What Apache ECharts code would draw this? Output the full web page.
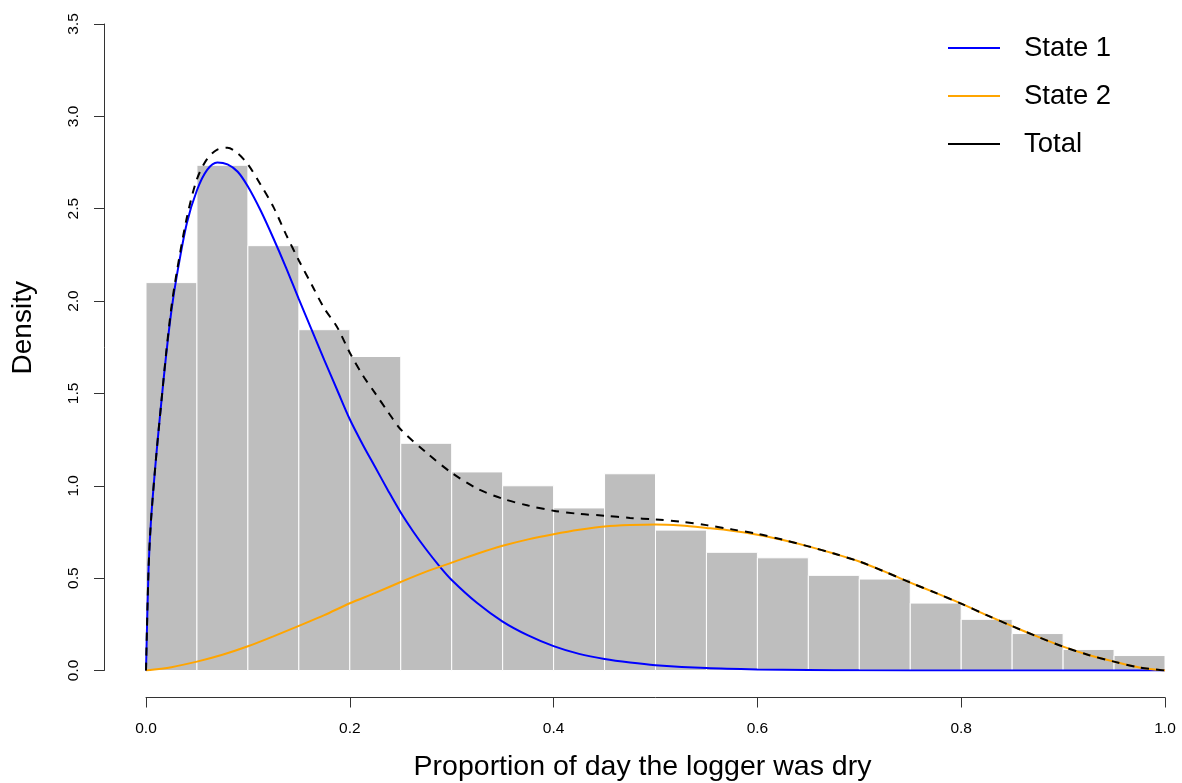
<!DOCTYPE html>
<html><head><meta charset="utf-8">
<script src="https://cdn.jsdelivr.net/npm/echarts@6/dist/echarts.min.js"></script>
<style>html,body{margin:0;padding:0;background:#fff}#c{width:1182px;height:783px}</style>
</head><body><div id="c"></div>
<script>
// Histogram bins (width 0.05) and densities
const binEdges = [0,0.05,0.1,0.15,0.2,0.25,0.3,0.35,0.4,0.45,0.5,0.55,0.6,0.65,0.7,0.75,0.8,0.85,0.9,0.95,1.0];
const histHeights = [2.10,2.735,2.30,1.845,1.70,1.23,1.075,1.00,0.88,1.065,0.76,0.64,0.61,0.515,0.495,0.365,0.277,0.20,0.114,0.081];

// State 1 density (blue)
const state1X = [0,0.0025,0.005,0.01,0.015,0.02,0.025,0.03,0.04,0.05,0.06,0.07,0.08,0.09,0.1,0.1125,0.125,0.1375,0.15,0.1625,0.175,0.1875,0.2,0.2125,0.225,0.2375,0.25,0.2625,0.275,0.2875,0.3,0.325,0.35,0.375,0.4,0.425,0.45,0.475,0.5,0.55,0.6,0.65,0.7,0.8,0.9,1.0];
const state1Y = [0,0.55,0.82,1.16,1.45,1.72,1.95,2.13,2.42,2.60,2.71,2.75,2.74,2.70,2.62,2.49,2.34,2.18,2.01,1.845,1.68,1.52,1.36,1.225,1.10,0.975,0.855,0.75,0.655,0.568,0.49,0.365,0.265,0.19,0.132,0.09,0.062,0.043,0.029,0.013,0.006,0.003,0.001,0,0,0];

// State 2 density (orange)
const state2X = [0,0.025,0.05,0.075,0.1,0.125,0.15,0.175,0.2,0.225,0.25,0.275,0.3,0.325,0.35,0.375,0.4,0.425,0.45,0.475,0.5,0.525,0.55,0.575,0.6,0.625,0.65,0.675,0.7,0.725,0.75,0.775,0.8,0.825,0.85,0.875,0.9,0.925,0.95,0.975,1.0];
const state2Y = [0,0.018,0.048,0.085,0.131,0.185,0.242,0.30,0.364,0.42,0.479,0.535,0.584,0.632,0.675,0.71,0.738,0.762,0.780,0.788,0.791,0.785,0.772,0.757,0.735,0.706,0.672,0.633,0.590,0.535,0.476,0.42,0.362,0.30,0.240,0.183,0.129,0.084,0.048,0.016,0];

// Total density (black dashed)
const totalX = [0,0.0025,0.005,0.01,0.015,0.02,0.025,0.03,0.04,0.05,0.06,0.07,0.08,0.09,0.1,0.1125,0.125,0.1375,0.15,0.1625,0.175,0.1875,0.2,0.2125,0.225,0.2375,0.25,0.275,0.3,0.325,0.35,0.375,0.4,0.425,0.45,0.475,0.5,0.525,0.55,0.575,0.6,0.625,0.65,0.675,0.7,0.725,0.75,0.775,0.8,0.825,0.85,0.875,0.9,0.925,0.95,0.975,1.0];
const totalY = [0,0.55,0.82,1.16,1.45,1.73,1.97,2.15,2.45,2.66,2.77,2.82,2.83,2.80,2.74,2.63,2.51,2.36,2.22,2.09,1.96,1.86,1.72,1.60,1.50,1.40,1.305,1.18,1.07,0.985,0.93,0.893,0.865,0.848,0.838,0.826,0.818,0.805,0.787,0.764,0.740,0.708,0.672,0.633,0.590,0.535,0.476,0.42,0.362,0.30,0.240,0.183,0.129,0.084,0.048,0.016,0];

const xTicks = {min:0, max:1, interval:0.2};
const yTicks = {min:0, max:3.5, interval:0.5};

const FONT = "'Liberation Sans', Arial, Helvetica, sans-serif";
const zip = (xs, ys) => xs.map((x, i) => [x, ys[i]]);

const chart = echarts.init(document.getElementById('c'), null, {renderer:'canvas'});
chart.setOption({
  animation:false,
  backgroundColor:'#fff',
  textStyle:{fontFamily:FONT},
  grid:{left:146, right:17, top:24, bottom:112.5, containLabel:false, outerBoundsMode:'none'},
  legend:{
    orient:'vertical', left:948, top:34, padding:0, icon:'rect', itemWidth:52, itemHeight:2, itemGap:20,
    selectedMode:false,
    textStyle:{fontSize:27.5, color:'#000', fontFamily:FONT, padding:[0,0,0,19]},
    data:['State 1','State 2','Total']
  },
  xAxis:{
    type:'value', min:xTicks.min, max:xTicks.max, interval:xTicks.interval, offset:27,
    axisLine:{show:true, onZero:false, lineStyle:{color:'#333', width:1}},
    axisTick:{show:true, length:10, lineStyle:{color:'#333'}},
    axisLabel:{margin:23, fontSize:15.5, color:'#000', fontFamily:FONT, formatter:v=>v.toFixed(1)},
    splitLine:{show:false},
    name:'Proportion of day the logger was dry', nameLocation:'middle', nameGap:55,
    nameTextStyle:{fontSize:28.5, color:'#000', fontFamily:FONT, padding:[0,26,0,0]}
  },
  yAxis:{
    type:'value', min:yTicks.min, max:yTicks.max, interval:yTicks.interval, offset:42,
    axisLine:{show:true, onZero:false, lineStyle:{color:'#333', width:1}},
    axisTick:{show:true, length:10, lineStyle:{color:'#333'}},
    axisLabel:{margin:22, rotate:90, fontSize:15.5, color:'#000', fontFamily:FONT, formatter:v=>v.toFixed(1)},
    splitLine:{show:false},
    name:'Density', nameLocation:'middle', nameGap:67, nameRotate:90,
    nameTextStyle:{fontSize:28, color:'#000', fontFamily:FONT, padding:[0,0,0,39]}
  },
  series:[
    {
      type:'custom', name:'hist', silent:true,
      data: histHeights.map((h, i) => [binEdges[i], binEdges[i+1], h]),
      encode:{x:[0,1], y:2},
      renderItem:function(params, api){
        const p0 = api.coord([api.value(0), api.value(2)]);
        const p1 = api.coord([api.value(1), 0]);
        return {type:'rect', shape:{x:p0[0], y:p0[1], width:p1[0]-p0[0], height:p1[1]-p0[1]},
                style:{fill:'#BEBEBE', stroke:'#ffffff', lineWidth:1}};
      },
      z:1
    },
    {type:'line', name:'State 1', data:zip(state1X, state1Y), symbol:'none', color:'#0000FF',
     smooth:0.3, lineStyle:{color:'#0000FF', width:2}, z:2},
    {type:'line', name:'State 2', data:zip(state2X, state2Y), symbol:'none', color:'#FFA500',
     smooth:0.3, lineStyle:{color:'#FFA500', width:2}, z:3},
    {type:'line', name:'Total', data:zip(totalX, totalY), symbol:'none', color:'#000',
     smooth:0.3, lineStyle:{color:'#000', width:2, type:[8,7]}, z:4}
  ]
});
</script>
</body></html>
